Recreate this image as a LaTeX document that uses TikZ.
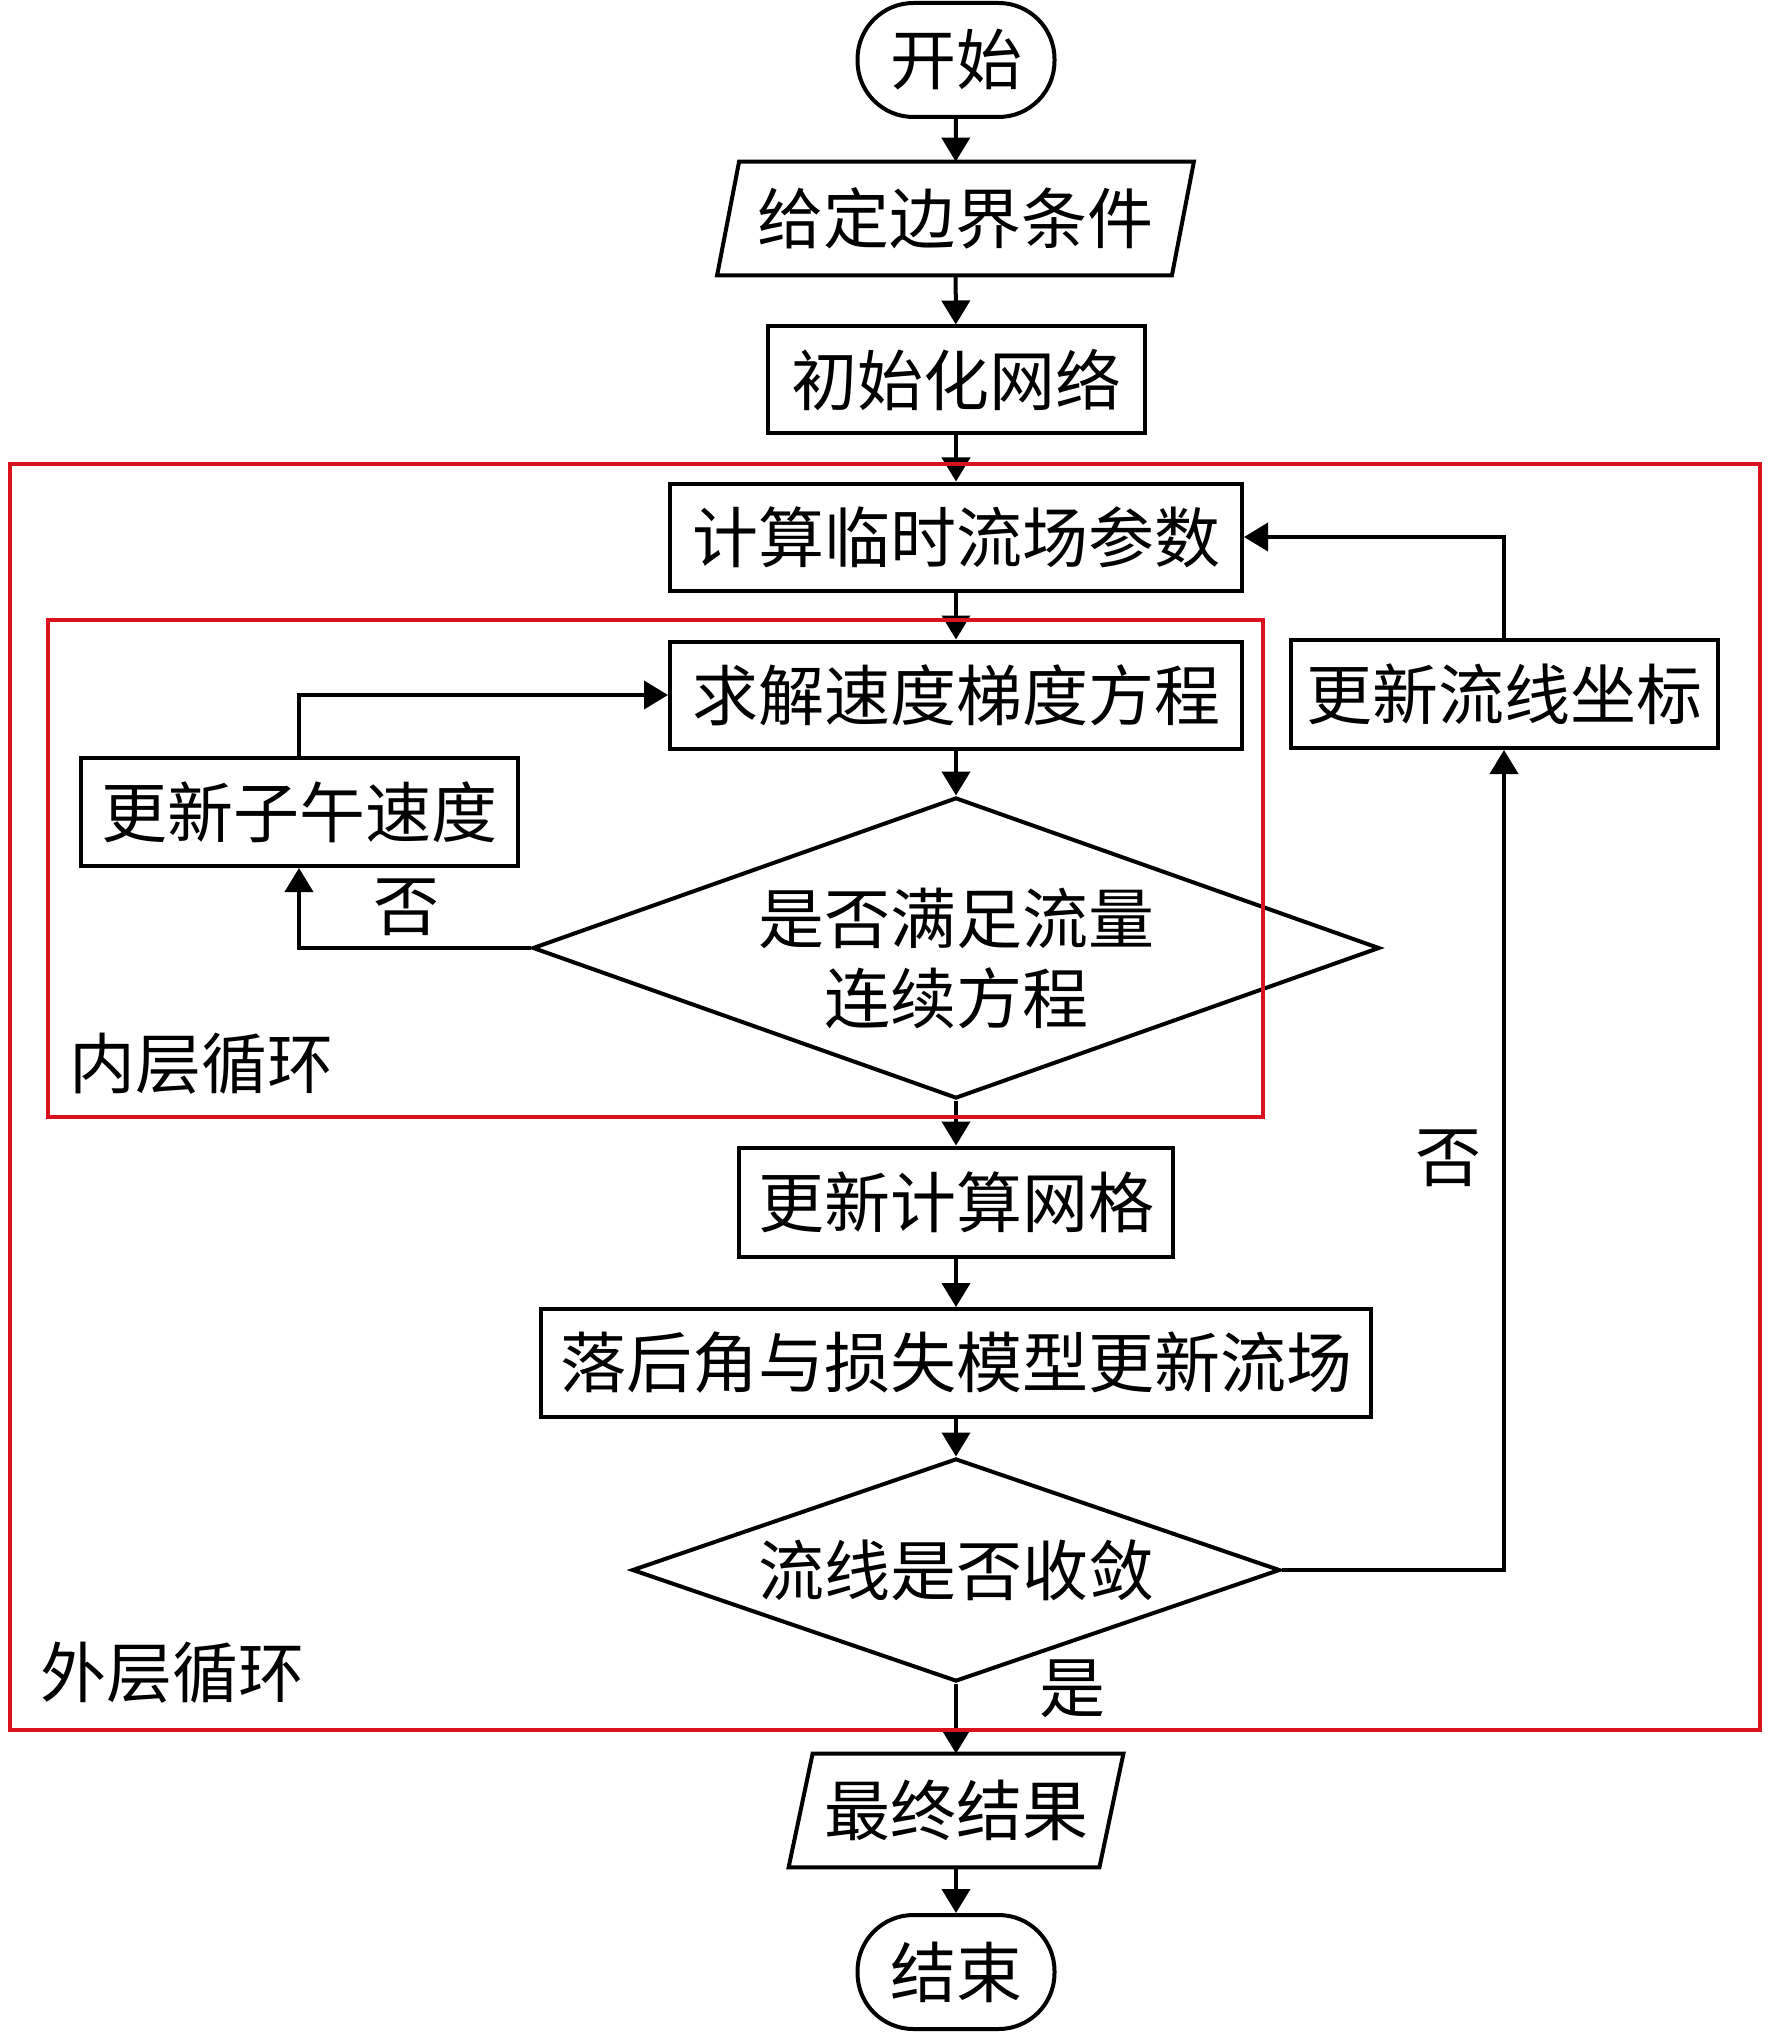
\documentclass[tikz,border=0pt]{standalone}
\usepackage{fontspec}
\setmainfont{Noto Sans CJK SC}
\usetikzlibrary{shapes.geometric,arrows.meta}
\definecolor{loopred}{RGB}{218,17,30}
\tikzset{
  txt/.style={font=\fontsize{33pt}{40pt}\selectfont, inner sep=0pt},
  box/.style={txt, draw, line width=2pt, minimum height=53.5pt},
  term/.style={txt, draw, line width=2pt, rounded corners=28pt, minimum width=98.5pt, minimum height=57pt},
  para/.style={txt, minimum height=56.5pt},
  dia/.style={txt, draw, line width=2pt, diamond, align=center},
  conn/.style={line width=2pt},
  arr/.style={conn, -{Triangle[length=12pt,width=14pt]}},
  redbox/.style={draw=loopred, line width=1.8pt}
}
\begin{document}
\begin{tikzpicture}[x=0.5pt,y=-0.5pt]
\useasboundingbox (0,0) rectangle (1772,2032);
\fill[white] (0,0) rectangle (1772,2032);

% nodes
\node[term] (start) at (956,60) {开始};
\node[para, minimum width=227pt] (bc) at (955.5,218.5) {给定边界条件};
\draw[conn] ([xshift=5.5pt]bc.north west) -- ([xshift=5.5pt]bc.north east)
  -- ([xshift=-5.5pt]bc.south east) -- ([xshift=-5.5pt]bc.south west) -- cycle;
\node[box, minimum width=188.5pt] (init) at (956,380) {初始化网络};
\node[box, minimum width=286pt] (calc) at (956,537) {计算临时流场参数};
\node[box, minimum width=286pt] (solve) at (956,695) {求解速度梯度方程};
\node[box, minimum width=213.5pt, minimum height=54pt] (upd) at (1504,694) {更新流线坐标};
\node[box, minimum width=218.5pt, minimum height=54pt] (mer) at (299,812) {更新子午速度};
\node[dia, minimum width=423.5pt, minimum height=150.5pt, aspect=2.81] (d1) at (956,948) {};
\node[txt, align=center] (d1t) at (956,958) {是否满足流量\\连续方程};
\node[box, minimum width=217pt, minimum height=54.5pt] (grid) at (956,1202) {更新计算网格};
\node[box, minimum width=415pt, minimum height=54pt] (model) at (956,1363) {落后角与损失模型更新流场};
\node[dia, minimum width=324pt, minimum height=111.5pt, aspect=2.9] (d2) at (956,1570) {};
\node[txt] (d2t) at (956,1570) {流线是否收敛};
\node[para, minimum width=155pt] (res) at (956,1810.5) {最终结果};
\draw[conn] ([xshift=6pt]res.north west) -- ([xshift=6pt]res.north east)
  -- ([xshift=-6pt]res.south east) -- ([xshift=-6pt]res.south west) -- cycle;
\node[term] (end) at (956,1972) {结束};

% labels
\node[txt] (no1) at (406,907) {否};
\node[txt] (no2) at (1448,1158) {否};
\node[txt] (yes) at (1072,1689) {是};
\node[txt] (inner) at (201,1064) {内层循环};
\node[txt] (outer) at (172,1673) {外层循环};

% connectors
\draw[arr] (start) -- (bc);
\draw[arr] (bc) -- (init);
\draw[arr] (init) -- (calc);
\draw[arr] (calc) -- (solve);
\draw[arr] (solve) -- (d1);
\draw[arr] (d1) -- (grid);
\draw[arr] (grid) -- (model);
\draw[arr] (model) -- (d2);
\draw[arr] (d2) -- (res);
\draw[arr] (res) -- (end);
\draw[arr] (d1.west) -| (mer.south);
\draw[arr] (mer.north) |- (solve.west);
\draw[arr] (d2.east) -| (upd.south);
\draw[arr] (upd.north) |- (calc.east);

% loop frames
\draw[redbox] (10,464) rectangle (1760,1730);
\draw[redbox] (48,620) rectangle (1263,1117);
\end{tikzpicture}
\end{document}
